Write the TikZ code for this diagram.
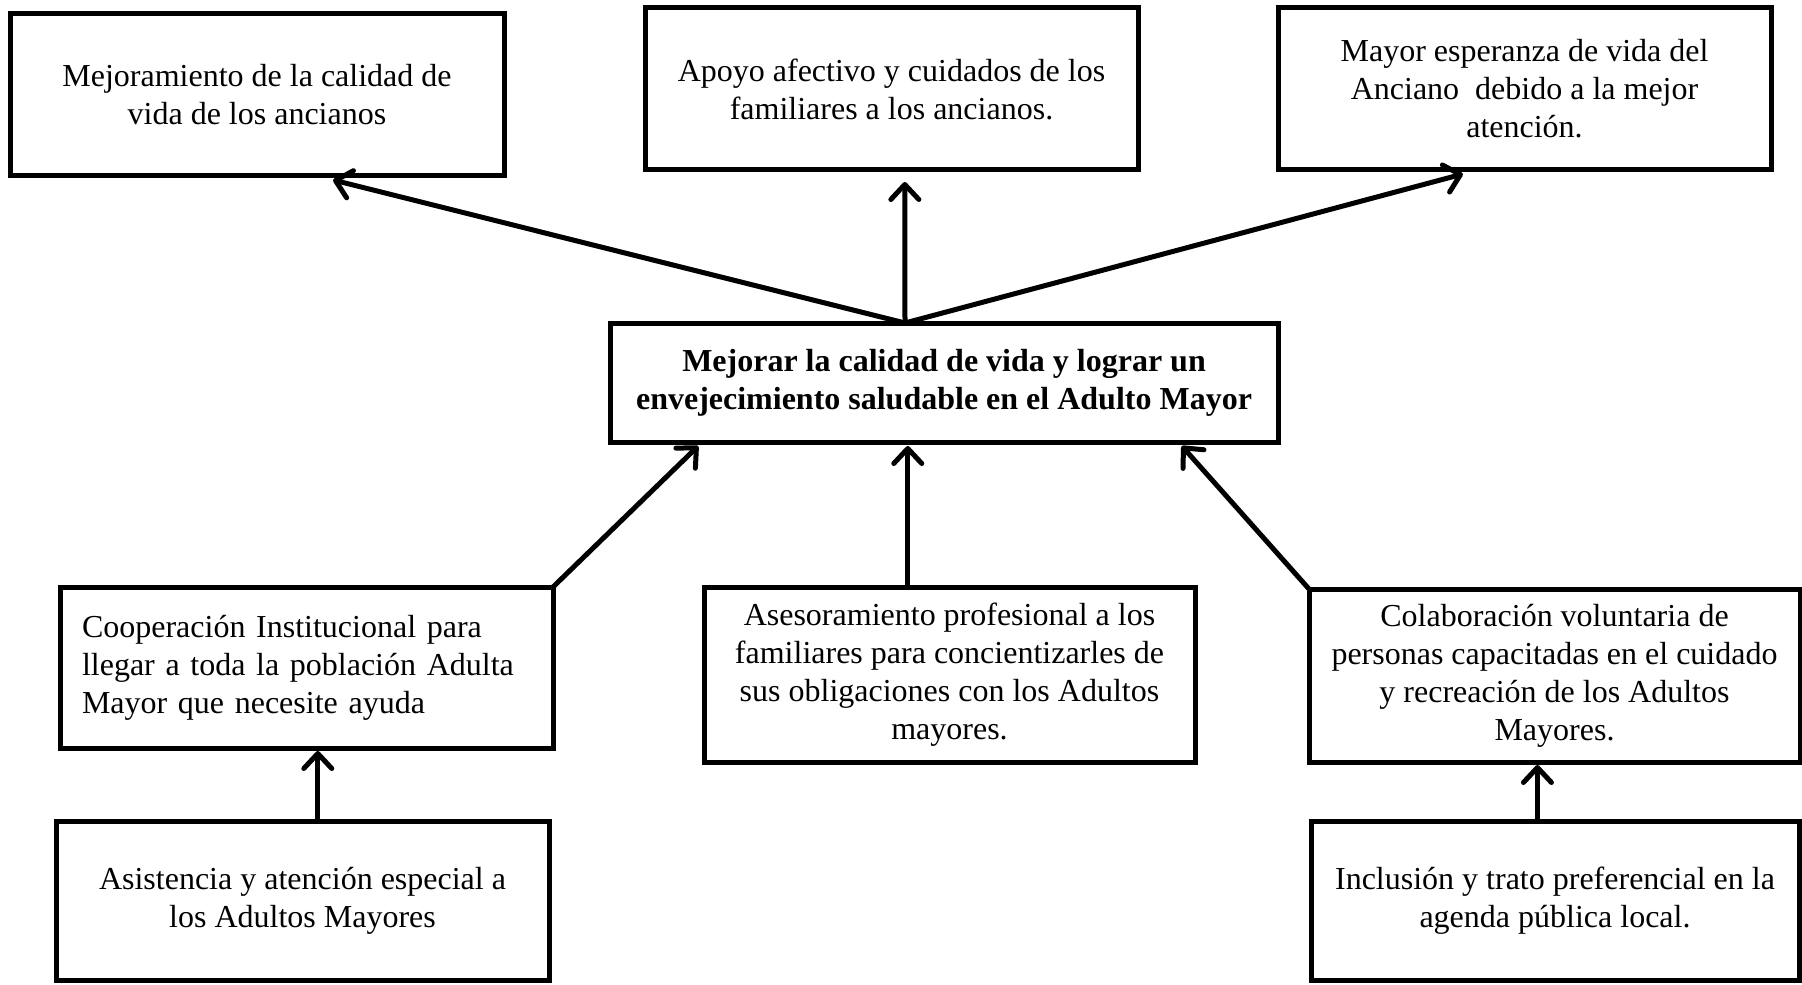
\documentclass[tikz,border=0pt]{standalone}
\usepackage{fontspec}
\setmainfont{Liberation Serif}
\usetikzlibrary{arrows.meta,calc}
\begin{document}
\begin{tikzpicture}[x=0.5pt,y=-0.5pt,
  box/.style={draw,line width=2.5pt,rectangle,inner sep=0pt,outer sep=0pt,align=center,
    font=\fontsize{16}{19}\selectfont},
  arr/.style={line width=2.5pt,line cap=round,-{Straight Barb[length=7.5pt,width=14pt,round]}}]
\useasboundingbox (0,0) rectangle (1802,984);
% top row
\node[box,minimum width=247pt,minimum height=81pt] (b1) at (257,95)
  {Mejoramiento de la calidad de\\vida de los ancianos};
\node[box,minimum width=246.5pt,minimum height=81pt] (b2) at (891.5,89)
  {Apoyo afectivo y cuidados de los\\familiares a los ancianos.};
\node[box,minimum width=246.5pt,minimum height=81pt] (b3) at (1524.5,89)
  {Mayor esperanza de vida del\\Anciano~ debido a la mejor\\atención.};
% central
\node[box,minimum width=334pt,minimum height=59.5pt,font=\fontsize{16}{19}\selectfont\bfseries] (c) at (944,382.5)
  {Mejorar la calidad de vida y lograr un\\envejecimiento saludable en el Adulto Mayor};
% middle row
\node[box,minimum height=80.5pt,inner xsep=11pt,text width=224.5pt,align=left] (m1) at (306.5,667.5)
  {\begin{tabular}{@{}l@{}}Cooperación Institucional para\\llegar a toda la población Adulta\\Mayor que necesite ayuda\end{tabular}};
\node[box,minimum width=245.5pt,minimum height=87.5pt] (m2) at (949.5,674.5)
  {Asesoramiento profesional a los\\familiares para concientizarles de\\sus obligaciones con los Adultos\\mayores.};
\node[box,minimum width=245.5pt,minimum height=86.5pt] (m3) at (1554.5,675.5)
  {Colaboración voluntaria de\\personas capacitadas en el cuidado\\y recreación de los Adultos\\Mayores.};
% bottom row
\node[box,minimum width=246.5pt,minimum height=79.5pt] (d1) at (302.5,901)
  {Asistencia y atención especial a\\los Adultos Mayores};
\node[box,minimum width=244pt,minimum height=79.5pt] (d3) at (1555,901)
  {Inclusión y trato preferencial en la\\agenda pública local.};
% anchor points
\coordinate (ct) at ($(c.north west)!0.4416!(c.north east)$);
\coordinate (t1) at ($(b1.south west)!0.654!(b1.south east)$);
\coordinate (t2) at ($(b2.south west)!0.527!(b2.south east)$);
\coordinate (t3) at ($(b3.south west)!0.375!(b3.south east)$);
\coordinate (c4) at ($(c.south west)!0.132!(c.south east)$);
\coordinate (p5) at ($(m2.north west)!0.415!(m2.north east)$);
\coordinate (c6) at ($(c.south west)!0.856!(c.south east)$);
\coordinate (p7) at ($(d1.north west)!0.531!(d1.north east)$);
\coordinate (p8) at ($(d3.north west)!0.464!(d3.north east)$);
% arrows
\draw[arr] (ct) -- ([yshift=-2pt]t1);
\draw[arr] (ct) -- ([yshift=-6pt]t2);
\draw[arr] (ct) -- ([yshift=-2pt]t3);
\draw[arr] (m1.north east) -- ([yshift=-2pt]c4);
\draw[arr] (p5) -- ([yshift=-2pt]p5 |- c.south);
\draw[arr] (m3.north west) -- ([yshift=-2pt]c6);
\draw[arr] (p7) -- ([yshift=-1.5pt]p7 |- m1.south);
\draw[arr] (p8) -- ([yshift=-1.5pt]p8 |- m3.south);
\end{tikzpicture}
\end{document}
